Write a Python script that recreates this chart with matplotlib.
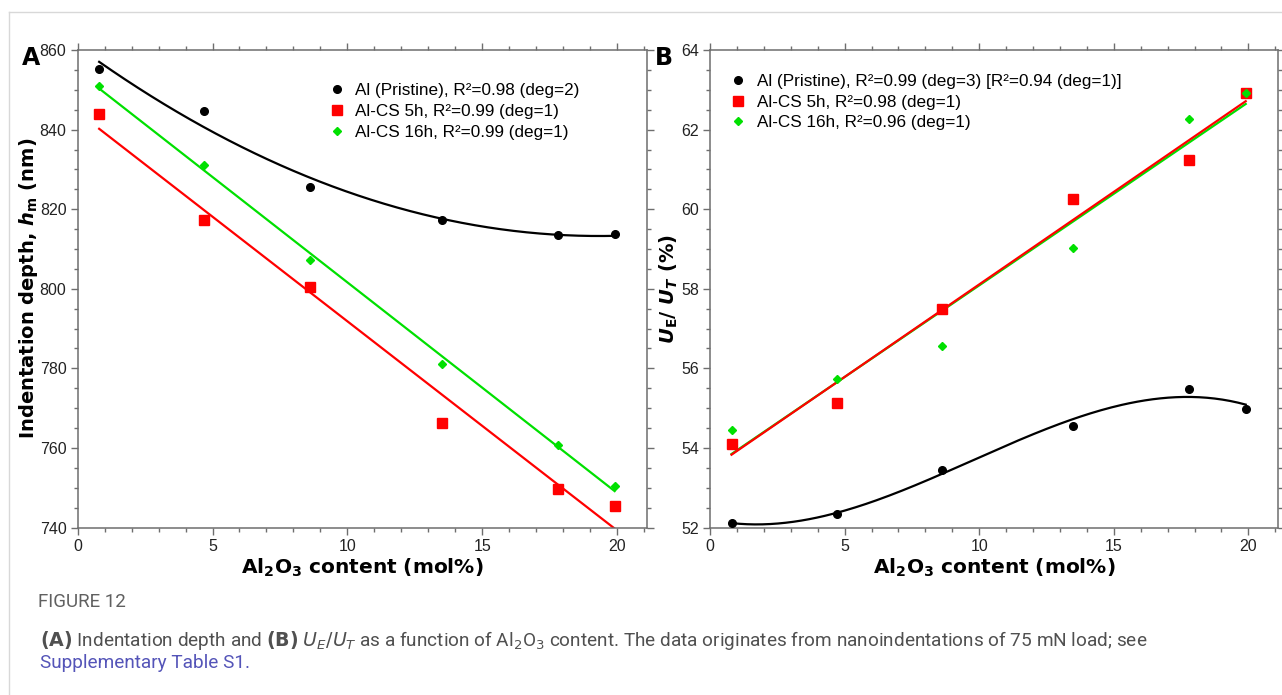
import numpy as np
import matplotlib as mpl
import matplotlib.pyplot as plt
from matplotlib.ticker import MultipleLocator

mpl.rcParams.update({"font.family": ["Liberation Sans", "DejaVu Sans"],
                     "font.size": 11, "mathtext.fontset": "dejavusans"})

# Al2O3 content (mol%)
al2o3 = [0.8, 4.7, 8.6, 13.5, 17.8, 19.9]

# panel A: indentation depth h_m (nm)
depth_pristine = [855.3, 844.7, 825.5, 817.3, 813.4, 813.8]
depth_cs5 = [844.0, 817.2, 800.4, 766.2, 749.7, 745.5]
depth_cs16 = [850.9, 831.0, 807.3, 781.1, 760.7, 750.5]

# panel B: U_E / U_T (%)
ratio_pristine = [52.11, 52.34, 53.45, 54.54, 55.49, 54.99]
ratio_cs5 = [54.11, 55.12, 57.49, 60.25, 61.24, 62.91]
ratio_cs16 = [54.46, 55.74, 56.55, 59.02, 62.26, 62.92]

labels_a = ["Al (Pristine), R²=0.98 (deg=2)",
            "Al-CS 5h, R²=0.99 (deg=1)",
            "Al-CS 16h, R²=0.99 (deg=1)"]
labels_b = ["Al (Pristine), R²=0.99 (deg=3) [R²=0.94 (deg=1)]",
            "Al-CS 5h, R²=0.98 (deg=1)",
            "Al-CS 16h, R²=0.96 (deg=1)"]

GREEN = "#00e000"
SPINE = "#6e6e6e"


def fit_line(ax, x, y, deg, color):
    p = np.polyfit(x, y, deg)
    xs = np.linspace(min(x), max(x), 200)
    ax.plot(xs, np.polyval(p, xs), color=color, lw=1.6, zorder=2)


def style(ax, ymajor, yminor):
    ax.set_xlim(0, 21.1)
    ax.xaxis.set_major_locator(MultipleLocator(5))
    ax.xaxis.set_minor_locator(MultipleLocator(1))
    ax.yaxis.set_major_locator(MultipleLocator(ymajor))
    ax.yaxis.set_minor_locator(MultipleLocator(yminor))
    ax.tick_params(which="both", direction="out", top=True, right=True,
                   color=SPINE, labelsize=11.5, labelcolor="#222222")
    ax.tick_params(which="major", length=5, width=1, pad=3)
    ax.tick_params(which="minor", length=3, width=1)
    for s in ax.spines.values():
        s.set_color(SPINE)
        s.set_linewidth(1.1)
    ax.set_xlabel(r"Al$_{\mathbf{2}}$O$_{\mathbf{3}}$ content (mol%)",
                  fontsize=14.5, fontweight="bold", family="DejaVu Sans", labelpad=2)


def panel(ax, yp, y5, y16, deg_p, labels):
    fit_line(ax, al2o3, yp, deg_p, "black")
    fit_line(ax, al2o3, y16, 1, GREEN)
    fit_line(ax, al2o3, y5, 1, "red")
    ax.plot(al2o3, yp, "o", color="black", ms=5.5, ls="none", label=labels[0], zorder=3)
    ax.plot(al2o3, y5, "s", color="red", ms=6.5, ls="none", label=labels[1], zorder=3)
    ax.plot(al2o3, y16, "D", color=GREEN, ms=4, ls="none", label=labels[2], zorder=4)


fig = plt.figure(figsize=(12.82, 6.95), dpi=100)
axA = fig.add_axes([0.0605, 0.241, 0.4442, 0.687])
axB = fig.add_axes([0.5538, 0.241, 0.4431, 0.687])

legend_kw = dict(loc="upper left", frameon=False, fontsize=12.3, handlelength=1.0,
                 handletextpad=0.6, labelspacing=0.33, borderaxespad=0, borderpad=0)

panel(axA, depth_pristine, depth_cs5, depth_cs16, 2, labels_a)
style(axA, 20, 5)
axA.set_ylim(740, 860)
axA.set_ylabel(r"Indentation depth, $\mathbfit{h}_{\mathbf{m}}$ (nm)",
               fontsize=14, fontweight="bold", family="DejaVu Sans", labelpad=0)
axA.legend(bbox_to_anchor=(0.44, 0.93), **legend_kw)

panel(axB, ratio_pristine, ratio_cs5, ratio_cs16, 3, labels_b)
style(axB, 2, 0.5)
axB.set_ylim(52, 64)
axB.set_ylabel(r"$\mathbfit{U}_{\mathbf{E}}$/ $\mathbfit{U}_{\mathbfit{T}}$ (%)",
               fontsize=14, fontweight="bold", family="DejaVu Sans", labelpad=1)
axB.legend(bbox_to_anchor=(0.035, 0.95), **legend_kw)

fig.text(0.017, 0.916, "A", fontsize=17, fontweight="bold", family="DejaVu Sans", va="center")
fig.text(0.511, 0.916, "B", fontsize=17, fontweight="bold", family="DejaVu Sans", va="center")

# page frame lines
fig.add_artist(plt.Line2D([0.007, 1.0], [0.983, 0.983], color="#d8d8d8", lw=1))
fig.add_artist(plt.Line2D([0.007, 0.007], [0.0, 0.983], color="#d8d8d8", lw=1))

cap = "#505050"
fig.text(0.030, 0.134, "FIGURE 12", fontsize=13.5, color="#606060", family="Roboto", va="center")
fig.text(0.031, 0.079,
         r"$\mathbf{(A)}$ Indentation depth and $\mathbf{(B)}$ $U_E/U_T$ as a function of "
         r"Al$_2$O$_3$ content. The data originates from nanoindentations of 75 mN load; see",
         fontsize=13.7, color=cap, family="Roboto", va="center")
fig.text(0.031, 0.046, "Supplementary Table S1.", fontsize=13.7, color="#5454b8",
         family="Roboto", va="center")

fig.savefig("out.png", dpi=100)
